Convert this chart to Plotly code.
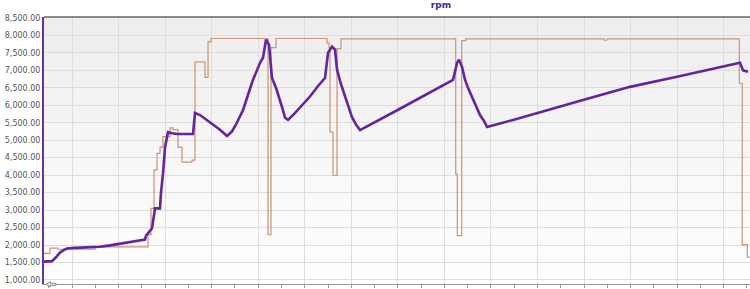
import plotly.graph_objects as go

# ---- data (time in s, rpm) ----
rpm_t = [-6.02, -4.30, -3.44, -2.58, -1.72, -1.07, 0.64, 2.36, 4.94, 6.02, 8.16, 10.31, 12.46, 14.61,
         15.68, 15.90, 16.76, 17.19, 17.83, 18.90, 19.12, 19.55, 19.98, 20.41, 20.62, 21.48, 22.56,
         25.99, 26.42, 27.50, 29.65, 31.79, 33.30, 34.37, 35.23, 36.09, 36.73, 37.81, 38.88, 39.74,
         40.39, 41.03, 41.68, 42.32, 42.96, 43.82, 44.47, 45.11, 45.76, 46.40, 47.48, 48.98, 51.13,
         52.85, 54.35, 55.00, 55.85, 56.50, 56.93, 57.79, 58.65, 59.51, 60.15, 61.01, 61.87, 70.46,
         76.91, 81.85, 82.71, 83.14, 83.78, 84.43, 85.07, 85.93, 86.79, 87.65, 88.51, 89.15, 91.95,
         94.74, 109.77, 119.87, 129.97, 143.50, 144.15, 145.22]
rpm_v = [1525, 1540, 1650, 1784, 1860, 1900, 1920, 1928, 1935, 1950, 1990, 2040, 2100, 2150,
         2158, 2270, 2420, 2480, 3050, 3050, 3510, 4050, 4800, 5090, 5230, 5200, 5175,
         5175, 5780, 5720, 5500, 5300, 5118, 5250, 5450, 5700, 5860, 6300, 6730, 7000,
         7215, 7360, 7880, 7730, 6780, 6500, 6240, 5950, 5640, 5580, 5720, 5950, 6250,
         6550, 6780, 7500, 7680, 7590, 7020, 6600, 6240, 5900, 5660, 5450, 5290, 5900,
         6370, 6727, 7210, 7300, 7100, 6730, 6500, 6240, 5950, 5720, 5550, 5380, 5480,
         5580, 6150, 6526, 6813, 7215, 7000, 6960]

tgt_t = [-6.02, -4.73, -3.01, 4.94, 16.33, 16.97, 17.62, 18.26, 18.90, 19.55, 21.05, 21.70, 22.77,
         23.63, 25.78, 26.42, 28.57, 29.22, 29.86, 42.11, 42.75, 43.82, 54.78, 55.21, 55.42, 56.07,
         56.93, 57.79, 82.43, 82.77, 83.72, 84.57, 114.29, 114.93, 143.35, 143.99, 145.07, 145.65]
tgt_v = [1760, 1910, 1880, 1950, 2300, 3050, 4150, 4620, 4800, 5100, 5350, 5300, 4800,
         4370, 4430, 7240, 6800, 7820, 7910, 2300, 7650, 7910, 7780, 7640, 5230, 3990,
         7620, 7900, 4030, 2270, 7850, 7900, 7860, 7900, 6630, 2010, 1650, 1650]

y_ticks = [1000, 1500, 2000, 2500, 3000, 3500, 4000, 4500, 5000, 5500, 6000, 6500, 7000, 7500, 8000, 8500]
y_labels = [f"{v:,.2f}" for v in y_ticks]

fig = go.Figure()
fig.add_trace(go.Scatter(x=tgt_t, y=tgt_v, mode="lines", line=dict(color="#c99478", width=1.2, shape="hv"),
                         hoverinfo="skip"))
fig.add_trace(go.Scatter(x=rpm_t, y=rpm_v, mode="lines", line=dict(color="#62259a", width=2.6),
                         hoverinfo="skip"))

# gradient background bands
n = 30
shapes = []
for i in range(n):
    f = i / (n - 1)
    c = int(238 + (255 - 238) * f)
    shapes.append(dict(type="rect", xref="x domain", yref="y domain", x0=0, x1=1,
                       y0=1 - (i + 1) / n, y1=1 - i / n, fillcolor=f"rgb({c},{c},{c})",
                       line=dict(width=0), layer="below"))
shapes.append(dict(type="line", xref="x domain", yref="y domain", x0=0, x1=1, y0=1, y1=1,
                   line=dict(color="#666666", width=1.5), layer="above"))
# small scroll-arrow icon at bottom-left
shapes.append(dict(type="path", xref="paper", yref="paper",
                   path="M 0.003 -0.001 L 0.009 0.009 L 0.009 0.003 L 0.017 0.003 "
                        "L 0.017 -0.005 L 0.009 -0.005 L 0.009 -0.011 Z",
                   fillcolor="#e8e8e8", line=dict(color="#8a8a8a", width=1), layer="above"))

fig.update_layout(
    width=750, height=289,
    margin=dict(l=44, r=0, t=17, b=5),
    paper_bgcolor="white", plot_bgcolor="white",
    showlegend=False,
    shapes=shapes,
    title=dict(text="<b>rpm</b>", x=0.588, xanchor="center", y=0.983, yanchor="middle",
               font=dict(family="DejaVu Sans", size=9, color="#2e3192")),
    xaxis=dict(range=[-6.02, 145.65], dtick=10, tick0=0, showticklabels=False,
               showgrid=True, gridcolor="#dddddd", gridwidth=1, zeroline=False,
               showline=True, linecolor="#999999", linewidth=1,
               ticks="outside", ticklen=3, tickcolor="#999999",
               minor=dict(dtick=5, tick0=0, ticks="outside", ticklen=3, tickcolor="#999999", showgrid=False)),
    yaxis=dict(range=[885, 8525], tickvals=y_ticks, ticktext=y_labels,
               showgrid=True, gridcolor="#dddddd", gridwidth=1, zeroline=False,
               showline=True, linecolor="#6b2fa0", linewidth=2,
               ticks="", tickfont=dict(family="DejaVu Sans", size=8, color="#555555")),
)

fig.write_html("out.html")
